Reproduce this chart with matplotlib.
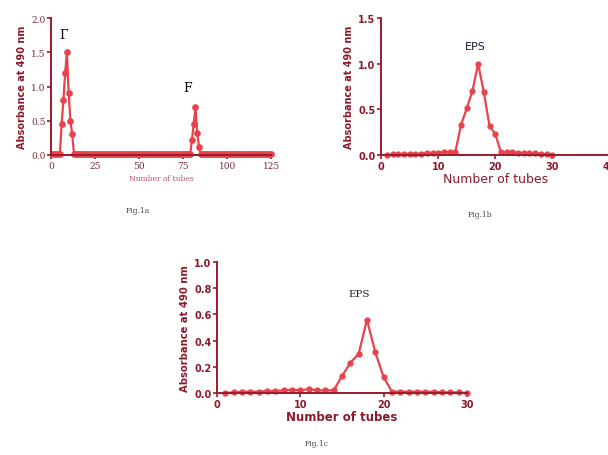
# -*- coding:UTF-8 -*-
import matplotlib
matplotlib.use('Agg')
import matplotlib.pyplot as plt
import numpy as np

# Fig 1a: tubes 1..125, two peaks
tubes_a = list(range(1, 126))
peak1 = {6: 0.45, 7: 0.8, 8: 1.2, 9: 1.5, 10: 0.9, 11: 0.5, 12: 0.3, 13: 0.02}
peak2 = {80: 0.22, 81: 0.45, 82: 0.7, 83: 0.32, 84: 0.12}
abs_a = [peak1.get(t, peak2.get(t, 0.01)) for t in tubes_a]

# Fig 1b: tubes 1..30
tubes_b = list(range(1, 31))
abs_b = [0.0, 0.005, 0.005, 0.01, 0.01, 0.01, 0.015, 0.02, 0.02, 0.025, 0.03, 0.03,
         0.03, 0.33, 0.51, 0.70, 1.00, 0.69, 0.32, 0.23, 0.03, 0.03, 0.03, 0.025,
         0.02, 0.02, 0.02, 0.015, 0.01, 0.0]

# Fig 1c: tubes 1..30
tubes_c = list(range(1, 31))
abs_c = [0.0, 0.005, 0.01, 0.01, 0.01, 0.015, 0.015, 0.02, 0.025, 0.02, 0.03, 0.02,
         0.02, 0.02, 0.13, 0.23, 0.30, 0.56, 0.31, 0.12, 0.01, 0.01, 0.01, 0.01,
         0.01, 0.01, 0.005, 0.005, 0.005, 0.0]

red = '#e8434a'
axis_col = '#9b1b2e'
label_col = '#8b1a2b'

fig = plt.figure(figsize=(6.08, 4.56), dpi=100)


def style_axes(ax, xticks, yticks, fam, weight, size, tick_col):
    for s in ['top', 'right']:
        ax.spines[s].set_visible(False)
    for s in ['left', 'bottom']:
        ax.spines[s].set_color(axis_col)
        ax.spines[s].set_linewidth(1.4)
    ax.set_xticks(xticks)
    ax.set_yticks(yticks)
    ax.set_yticklabels(['%.1f' % v for v in yticks])
    ax.tick_params(colors=axis_col, width=1.2, length=3, pad=1)
    for lab in ax.get_xticklabels() + ax.get_yticklabels():
        lab.set_family(fam)
        lab.set_weight(weight)
        lab.set_fontsize(size)
        lab.set_color(tick_col)


# ---- Fig 1a
ax1 = fig.add_axes([0.084, 0.658, 0.362, 0.30])
ax1.plot(tubes_a, abs_a, '-o', color=red, lw=1.6, ms=3.8, clip_on=False)
ax1.set_xlim(0, 125)
ax1.set_ylim(0, 2.0)
style_axes(ax1, [0, 25, 50, 75, 100, 125], [0.0, 0.5, 1.0, 1.5, 2.0],
           'DejaVu Serif', 'normal', 6.5, '#7a2a3a')
ax1.set_ylabel('Absorbance at 490 nm', fontsize=7, fontweight='bold',
               color=label_col, labelpad=3)
ax1.set_xlabel('Number of tubes', fontsize=5.5, family='DejaVu Serif',
               color='#b05070', labelpad=3)
ax1.text(7, 1.76, 'Γ', family='DejaVu Serif', fontsize=9, ha='center', va='center')
ax1.text(77.7, 0.99, 'F', family='DejaVu Serif', fontsize=9, ha='center', va='center')
fig.text(0.227, 0.533, 'Fig.1a', family='DejaVu Serif', fontsize=5.5, color='#444444',
         ha='center')

# ---- Fig 1b
ax2 = fig.add_axes([0.627, 0.658, 0.375, 0.30])
ax2.plot(tubes_b, abs_b, '-o', color=red, lw=1.6, ms=3.5, clip_on=False)
ax2.set_xlim(0, 40)
ax2.set_ylim(0, 1.5)
style_axes(ax2, [0, 10, 20, 30, 40], [0.0, 0.5, 1.0, 1.5],
           'DejaVu Sans', 'bold', 7, label_col)
ax2.set_ylabel('Absorbance at 490 nm', fontsize=7, fontweight='bold',
               color=label_col, labelpad=3)
ax2.set_xlabel('Number of tubes', fontsize=9, color=label_col, labelpad=1)
ax2.text(16.5, 1.19, 'EPS', fontsize=8, color='#1a1a3a', ha='center', va='center')
fig.text(0.79, 0.525, 'Fig.1b', family='DejaVu Serif', fontsize=5.5, color='#444444',
         ha='center')

# ---- Fig 1c
ax3 = fig.add_axes([0.357, 0.136, 0.411, 0.287])
ax3.plot(tubes_c, abs_c, '-o', color=red, lw=1.6, ms=3.5, clip_on=False)
ax3.set_xlim(0, 30)
ax3.set_ylim(0, 1.0)
style_axes(ax3, [0, 10, 20, 30], [0.0, 0.2, 0.4, 0.6, 0.8, 1.0],
           'DejaVu Sans', 'bold', 7, label_col)
ax3.set_ylabel('Absorbance at 490 nm', fontsize=7.2, fontweight='bold',
               color=label_col, labelpad=3)
ax3.set_xlabel('Number of tubes', fontsize=8.5, fontweight='bold', color=label_col,
               labelpad=1)
ax3.text(17.1, 0.76, 'EPS', family='DejaVu Serif', fontsize=7.5, color='#222222',
         ha='center', va='center')
fig.text(0.52, 0.022, 'Fig.1c', family='DejaVu Serif', fontsize=5.5, color='#444444',
         ha='center')

fig.savefig('out.png', dpi=100)
